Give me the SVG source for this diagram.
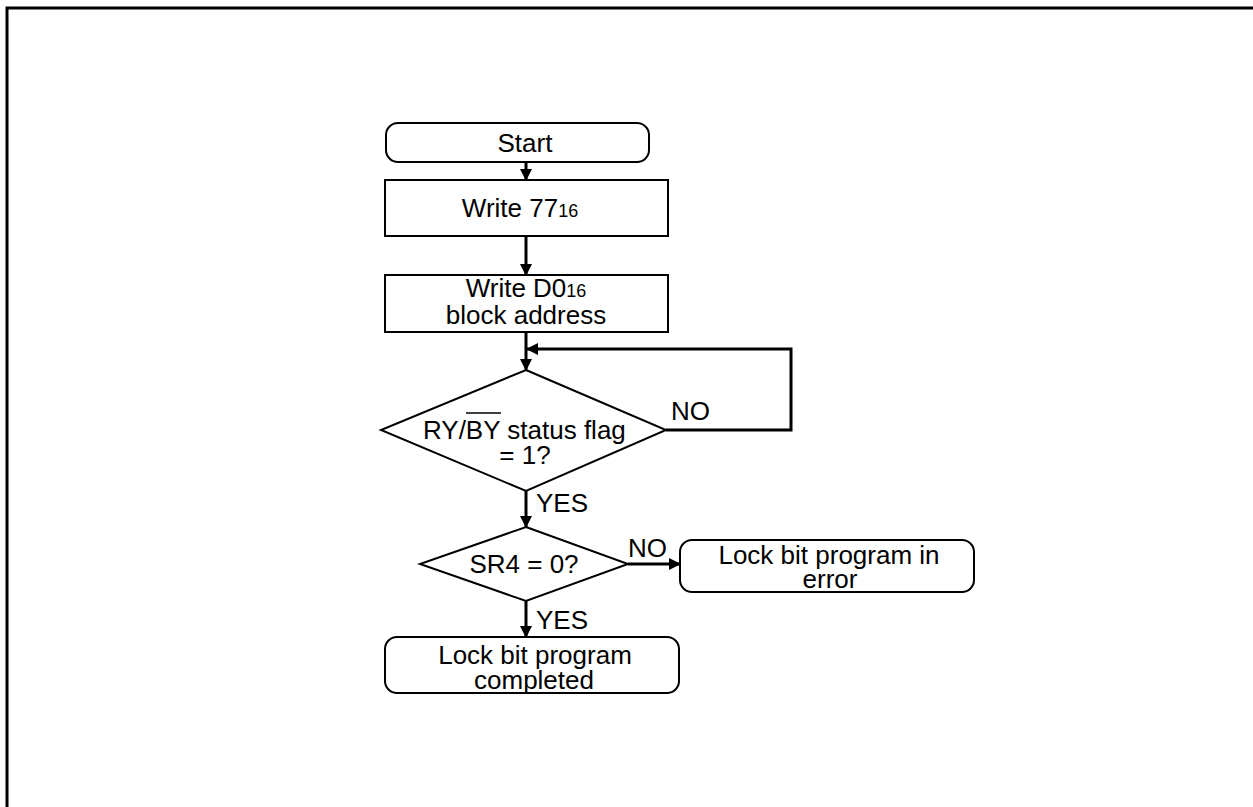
<svg xmlns="http://www.w3.org/2000/svg" width="1253" height="807" viewBox="0 0 1253 807">
<defs>
<marker id="ah" markerWidth="12" markerHeight="12" refX="11" refY="6" orient="auto" markerUnits="userSpaceOnUse">
<path d="M0,0 L12,6 L0,12 Z" fill="#000"/>
</marker>
<style>
.box{fill:#fff;stroke:#000;stroke-width:2}
.ln{fill:none;stroke:#000;stroke-width:3}
.t{font-family:"Liberation Sans",Arial,sans-serif;font-size:26px;fill:#000}
.c{text-anchor:middle}
.s{font-size:18px}
</style>
</defs>
<rect x="7" y="8" width="1252" height="806" fill="#fff" stroke="#000" stroke-width="3"/>
<g id="connectors">
<line class="ln" x1="526" y1="162" x2="526" y2="180" marker-end="url(#ah)"/>
<line class="ln" x1="526" y1="236" x2="526" y2="275" marker-end="url(#ah)"/>
<line class="ln" x1="526" y1="332" x2="526" y2="370" marker-end="url(#ah)"/>
<polyline class="ln" points="666,430 791,430 791,349 527,349" marker-end="url(#ah)"/>
<line class="ln" x1="526" y1="491" x2="526" y2="527" marker-end="url(#ah)"/>
<line class="ln" x1="628" y1="564" x2="680" y2="564" marker-end="url(#ah)"/>
<line class="ln" x1="526" y1="601" x2="526" y2="637" marker-end="url(#ah)"/>
<text class="t" x="671" y="420">NO</text>
<text class="t" x="536" y="512">YES</text>
<text class="t" x="628" y="557">NO</text>
<text class="t" x="536" y="629">YES</text>
</g>
<g id="start">
<rect class="box" x="386" y="123" width="263" height="39" rx="12"/>
<text class="t c" x="525" y="152">Start</text>
</g>
<g id="write77">
<rect class="box" x="385" y="180" width="283" height="56"/>
<text class="t c" x="520" y="217">Write 77<tspan class="s">16</tspan></text>
</g>
<g id="writeD0">
<rect class="box" x="385" y="275" width="283" height="57"/>
<text class="t c" x="526" y="297">Write D0<tspan class="s">16</tspan></text>
<text class="t c" x="526" y="324">block address</text>
</g>
<g id="ryby">
<polygon class="box" points="526,370 666,430 526,491 381,430"/>
<text class="t" x="423" y="439">RY/BY status flag</text>
<line x1="466" y1="413" x2="501" y2="413" stroke="#000" stroke-width="1.5"/>
<text class="t c" x="525" y="464">= 1?</text>
</g>
<g id="sr4">
<polygon class="box" points="526,527 628,564 526,601 420,564"/>
<text class="t c" x="524" y="573">SR4 = 0?</text>
</g>
<g id="error">
<rect class="box" x="680" y="540" width="294" height="52" rx="12"/>
<text class="t c" x="829" y="564">Lock bit program in</text>
<text class="t c" x="830" y="588">error</text>
</g>
<g id="completed">
<rect class="box" x="385" y="637" width="294" height="56" rx="12"/>
<text class="t c" x="535" y="664">Lock bit program</text>
<text class="t c" x="534" y="689">completed</text>
</g>
</svg>
